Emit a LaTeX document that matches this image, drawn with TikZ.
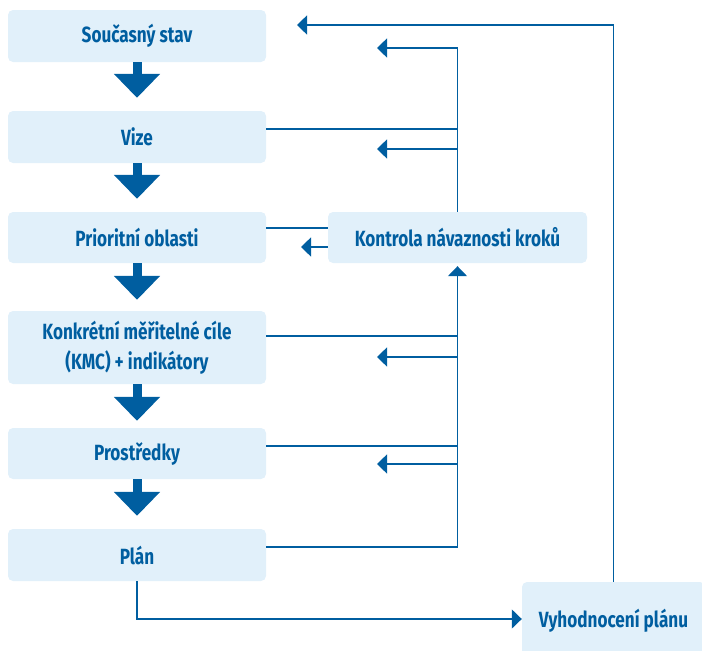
\documentclass[tikz,border=0pt]{standalone}
\usepackage{fontspec}
\setmainfont{Fira Sans}[FakeStretch=0.78]
\usetikzlibrary{arrows.meta,calc}
\definecolor{dblue}{RGB}{0,94,160}
\definecolor{boxfill}{RGB}{225,240,250}
\begin{document}
\begin{tikzpicture}[x=1pt,y=-1pt,
  box/.style={fill=boxfill, rounded corners=5pt, text=dblue, font=\bfseries\fontsize{22}{30}\selectfont, align=center, inner sep=0pt},
  lbox/.style={box, minimum width=258pt},
  conn/.style={draw=dblue, line width=1.4pt},
  tip/.style={-{Triangle[length=10pt,width=19pt]}},
  big/.style={draw=dblue, line width=9pt, -{Triangle[length=24pt,width=45pt]}}]
\useasboundingbox (0,0) rectangle (702,651);
% left column
\node[lbox, minimum height=52pt] (b1) at (137,36) {Současný stav};
\node[lbox, minimum height=52pt] (b2) at (137,137) {Vize};
\node[lbox, minimum height=51pt] (b3) at (137,237.5) {Prioritní oblasti};
\node[lbox, minimum height=73pt] (b4) at (137,347.5) {Konkrétní měřitelné cíle\\(KMC) + indikátory};
\node[lbox, minimum height=51pt] (b5) at (137,453.5) {Prostředky};
\node[lbox, minimum height=52pt] (b6) at (137,555) {Plán};
% right boxes
\node[box, minimum width=259pt, minimum height=51pt] (k) at (457.5,237.5) {Kontrola návaznosti kroků};
\node[box, minimum width=183pt, minimum height=78pt] (v) at (613.5,621) {Vyhodnocení plánu};
% big arrows
\draw[big] (b1.south) -- ([yshift=13pt]b2.north);
\draw[big] (b2.south) -- ([yshift=13pt]b3.north);
\draw[big] (b3.south) -- ([yshift=11pt]b4.north);
\draw[big] (b4.south) -- ([yshift=7pt]b5.north);
\draw[big] (b5.south) -- ([yshift=13pt]b6.north);
% free ends
\coordinate (t0) at (297,25);
\coordinate (a1) at (377,48);
\coordinate (a2) at (377,149);
\coordinate (a3) at (301,247);
\coordinate (a4) at (377,357);
\coordinate (a5) at (377,464);
\coordinate (e2) at ([yshift=8pt]b2.east);
\coordinate (e4) at ([yshift=11.5pt]b4.east);
\coordinate (e5) at ([yshift=7.5pt]b5.east);
\coordinate (e6) at ([yshift=8pt]b6.east);
% outer feedback
\draw[conn,tip] (v.north) |- (t0);
% upper trunk
\draw[conn,tip] (k.north) |- (a1);
\draw[conn,tip] (k.north |- a2) -- (a2);
\draw[conn] (e2) -- (e2 -| k.north);
% kontrola left side
\draw[conn] ([yshift=9.5pt]b3.east) -- ([yshift=9.5pt]k.west);
\draw[conn,tip] ([yshift=-9.5pt]k.west) -- (a3);
% lower trunk
\draw[conn,tip] (e6) -| ([yshift=-3pt]k.south);
\draw[conn] (e4) -- (e4 -| k.south);
\draw[conn,tip] (k.south |- a4) -- (a4);
\draw[conn] (e5) -- (e5 -| k.south);
\draw[conn,tip] (k.south |- a5) -- (a5);
% plan to evaluation
\draw[conn,tip] (b6.south) |- ([yshift=2pt]v.west);
\end{tikzpicture}
\end{document}
